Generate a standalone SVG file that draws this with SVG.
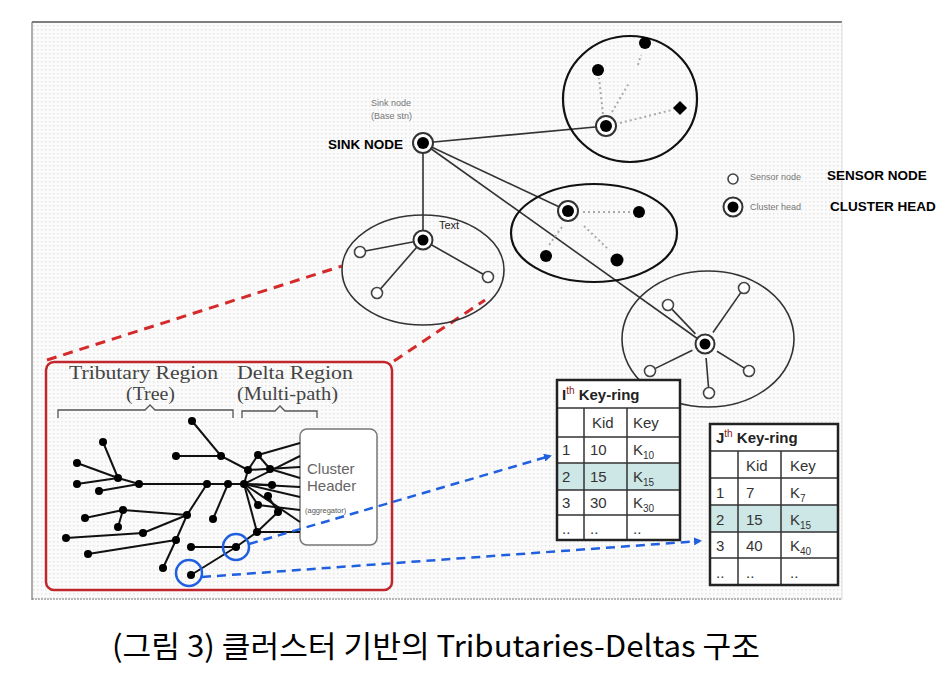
<svg xmlns="http://www.w3.org/2000/svg" width="950" height="694" viewBox="0 0 950 694">
<defs>
<pattern id="dots" width="4" height="4" patternUnits="userSpaceOnUse">
<rect width="4" height="4" fill="#fbfbfb"/>
<rect x="1" y="1" width="1.5" height="1.5" fill="#e6e6e6"/>
</pattern>
<marker id="barrow" markerWidth="8" markerHeight="8" refX="6" refY="4" orient="auto" markerUnits="userSpaceOnUse">
<path d="M0,0 L8,4 L0,8 Z" fill="#1f5fe0"/>
</marker>
</defs>
<style>
.ln{stroke:#333;stroke-width:1.6;fill:none}
.ell{fill:none;stroke:#333;stroke-width:1.6}
.ell2{fill:none;stroke:#111;stroke-width:2.2}
.dot{stroke:#aaa;stroke-width:2;stroke-dasharray:2 3;fill:none}
.chO{fill:#fff;stroke:#333;stroke-width:2}
.chI{fill:#000}
.sn{fill:#fff;stroke:#444;stroke-width:1.6}
.bn{fill:#000}
.small{font-family:"Liberation Sans",Arial,sans-serif;font-size:9px;fill:#777}
.bold{font-family:"Liberation Sans",Arial,sans-serif;font-size:13.5px;font-weight:bold;fill:#000}
.te{stroke:#111;stroke-width:2;fill:none}
.tn{fill:#000}
.serif{font-family:"Liberation Serif","Times New Roman",serif;font-size:18px;fill:#444}
.brace{stroke:#555;stroke-width:1.3;fill:none}
.tb{font-family:"Liberation Sans",Arial,sans-serif;font-size:15px;fill:#333}
.tbt{font-family:"Liberation Sans",Arial,sans-serif;font-size:15px;font-weight:bold;fill:#222}
.tgrid{stroke:#333;stroke-width:1.5;fill:none}
.tout{stroke:#222;stroke-width:2.5;fill:none}
.hl{fill:#cde7e6}
.bd{stroke:#1f5fe0;stroke-width:2.5;stroke-dasharray:9 6;fill:none}
.bc{stroke:#1f5fe0;stroke-width:2.5;fill:none}
.rd{stroke:#d42a2a;stroke-width:3;stroke-dasharray:10 7;fill:none}
</style>
<rect width="950" height="694" fill="#fff"/>
<!-- frame -->
<g id="frame">
<rect x="32" y="22" width="810" height="578" fill="url(#dots)"/>
<line x1="32" y1="22" x2="842" y2="22" stroke="#555" stroke-width="1.5"/>
<line x1="32" y1="22" x2="32" y2="600" stroke="#777" stroke-width="1.2"/>
<line x1="842" y1="22" x2="842" y2="600" stroke="#ddd" stroke-width="1"/>
<line x1="32" y1="599" x2="842" y2="599" stroke="#777" stroke-width="1.2" stroke-dasharray="2 1"/>
</g>
<!-- connectors -->
<g id="connectors">
<line class="ln" x1="423" y1="143" x2="423" y2="240"/>
<line class="ln" x1="423" y1="143" x2="606" y2="126"/>
<line class="ln" x1="423" y1="143" x2="568" y2="211"/>
<line class="ln" x1="423" y1="143" x2="705" y2="344"/>
<line class="rd" x1="47" y1="360" x2="342" y2="266"/>
<line class="rd" x1="394" y1="361" x2="485" y2="300"/>
</g>
<!-- left cluster -->
<g id="cluster-left">
<ellipse class="ell" cx="423" cy="270" rx="81" ry="55"/>
<line class="ln" x1="423" y1="240" x2="360" y2="252"/>
<line class="ln" x1="423" y1="240" x2="488" y2="277"/>
<line class="ln" x1="423" y1="240" x2="377" y2="293"/>
<circle class="sn" cx="360" cy="252" r="5.5"/>
<circle class="sn" cx="488" cy="277" r="5.5"/>
<circle class="sn" cx="377" cy="293" r="5.5"/>
<circle class="chO" cx="423" cy="240" r="9.5"/>
<circle class="chI" cx="423" cy="240" r="5.5"/>
<text x="439" y="229" font-family="Liberation Sans, Arial, sans-serif" font-size="11" fill="#222">Text</text>
</g>
<!-- top-right cluster -->
<g id="cluster-top">
<ellipse class="ell2" cx="630" cy="99" rx="67" ry="63"/>
<line class="dot" x1="603" y1="114" x2="599" y2="78"/>
<line class="dot" x1="612" y1="112" x2="629" y2="83"/>
<line class="dot" x1="638" y1="65" x2="641" y2="55"/>
<line class="dot" x1="620" y1="123" x2="672" y2="110"/>
<circle class="bn" cx="645" cy="43" r="6"/>
<circle class="bn" cx="598" cy="70" r="6"/>
<rect class="bn" x="675" y="103" width="10" height="10" transform="rotate(45 680 108)"/>
<circle class="chO" cx="606" cy="126" r="10"/>
<circle class="chI" cx="606" cy="126" r="6"/>
</g>
<!-- middle cluster -->
<g id="cluster-mid">
<ellipse class="ell2" cx="594" cy="233" rx="83" ry="49"/>
<line class="dot" x1="583" y1="212" x2="633" y2="212"/>
<line class="dot" x1="562" y1="227" x2="549" y2="245"/>
<line class="dot" x1="584" y1="226" x2="608" y2="249"/>
<circle class="bn" cx="639" cy="212" r="6"/>
<circle class="bn" cx="546" cy="256" r="6"/>
<circle class="bn" cx="617" cy="260" r="6.5"/>
<circle class="chO" cx="568" cy="211" r="10"/>
<circle class="chI" cx="568" cy="211" r="6"/>
</g>
<!-- bottom-right cluster -->
<g id="cluster-br">
<ellipse class="ell" cx="708" cy="339" rx="86" ry="68"/>
<line class="ln" x1="695.4" y1="333.9" x2="672.1" y2="309.4"/>
<line class="ln" x1="713" y1="332.5" x2="740.6" y2="292.9"/>
<line class="ln" x1="692.4" y1="350.2" x2="655.4" y2="368.4"/>
<line class="ln" x1="717" y1="351.3" x2="743.9" y2="367.9"/>
<line class="ln" x1="706.1" y1="358" x2="708.5" y2="387"/>
<circle class="sn" cx="668" cy="305" r="5.5"/>
<circle class="sn" cx="744" cy="288" r="5.5"/>
<circle class="sn" cx="650" cy="371" r="5.5"/>
<circle class="sn" cx="749" cy="371" r="5.5"/>
<circle class="sn" cx="709" cy="393" r="5.5"/>
<circle class="chO" cx="705" cy="344" r="9.5"/>
<circle class="chI" cx="705" cy="344" r="5.5"/>
</g>
<!-- sink node -->
<g id="sink">
<circle class="chO" cx="423" cy="143" r="10"/>
<circle class="chI" cx="423" cy="143" r="6"/>
<text class="small" x="371" y="106">Sink node</text>
<text class="small" x="371" y="119">(Base stn)</text>
<text class="bold" x="328" y="149" font-size="13">SINK NODE</text>
</g>
<!-- legend -->
<g id="legend">
<circle class="sn" cx="733" cy="179" r="5"/>
<text class="small" x="750" y="180">Sensor node</text>
<text class="bold" x="827" y="180">SENSOR NODE</text>
<circle class="chO" cx="733" cy="207" r="9.5"/>
<circle class="chI" cx="733" cy="207" r="5.5"/>
<text class="small" x="750" y="210">Cluster head</text>
<text class="bold" x="830" y="211">CLUSTER HEAD</text>
</g>
<!-- zoom box with tributary/delta tree -->
<g id="tree-box">
<rect x="46" y="362" width="346" height="228" rx="8" fill="none" stroke="#c0262b" stroke-width="2.5"/>
<text class="serif" x="69" y="379" textLength="149" lengthAdjust="spacingAndGlyphs">Tributary Region</text>
<text class="serif" x="126" y="400" textLength="49" lengthAdjust="spacingAndGlyphs">(Tree)</text>
<text class="serif" x="237" y="379" textLength="116" lengthAdjust="spacingAndGlyphs">Delta Region</text>
<text class="serif" x="237" y="400" textLength="101" lengthAdjust="spacingAndGlyphs">(Multi-path)</text>
<path class="brace" d="M58,418 L58,410 L145,410 L150,405 L155,410 L233,410 L233,418"/>
<path class="brace" d="M242,418 L242,411 L275,411 L280,406 L285,411 L317,411 L317,418"/>
<rect x="300" y="429" width="77" height="116" rx="7" fill="#fff" stroke="#777" stroke-width="1.5"/>
<text x="307" y="474" font-family="Liberation Sans, Arial, sans-serif" font-size="15" fill="#666">Cluster</text>
<text x="307" y="491" font-family="Liberation Sans, Arial, sans-serif" font-size="15" fill="#666">Header</text>
<text x="305" y="513" font-family="Liberation Sans, Arial, sans-serif" font-size="7.5" fill="#555">(aggregator)</text>
<g id="tree-edges">
<polyline class="te" points="192,421 221,456 248,470"/>
<line class="te" x1="176" y1="456" x2="221" y2="456"/>
<line class="te" x1="139" y1="484" x2="244" y2="484"/>
<line class="te" x1="103" y1="442" x2="118" y2="478"/>
<line class="te" x1="77" y1="463" x2="118" y2="478"/>
<line class="te" x1="77" y1="484" x2="118" y2="478"/>
<line class="te" x1="118" y1="478" x2="139" y2="484"/>
<line class="te" x1="99" y1="491" x2="139" y2="484"/>
<line class="te" x1="85" y1="518" x2="123" y2="510"/>
<line class="te" x1="118" y1="527" x2="123" y2="510"/>
<line class="te" x1="123" y1="510" x2="187" y2="515"/>
<polyline class="te" points="207,484 187,515 176,540 163,568"/>
<line class="te" x1="66" y1="538" x2="143" y2="533"/>
<line class="te" x1="143" y1="533" x2="187" y2="515"/>
<line class="te" x1="88" y1="554" x2="176" y2="540"/>
<line class="te" x1="213" y1="519" x2="228" y2="484"/>
<line class="te" x1="191" y1="547" x2="236" y2="547"/>
<polyline class="te" points="191,575 236,547 257,532 278,512"/>
<line class="te" x1="257" y1="532" x2="300" y2="532"/>
<line class="te" x1="244" y1="484" x2="257" y2="532"/>
<line class="te" x1="248" y1="470" x2="258" y2="455"/>
<line class="te" x1="258" y1="455" x2="300" y2="443"/>
<line class="te" x1="258" y1="455" x2="270" y2="469"/>
<line class="te" x1="248" y1="470" x2="300" y2="467"/>
<line class="te" x1="248" y1="470" x2="244" y2="484"/>
<line class="te" x1="270" y1="469" x2="300" y2="478"/>
<line class="te" x1="244" y1="484" x2="300" y2="456"/>
<line class="te" x1="244" y1="484" x2="300" y2="487"/>
<line class="te" x1="244" y1="484" x2="300" y2="497"/>
<line class="te" x1="244" y1="484" x2="300" y2="522"/>
<line class="te" x1="244" y1="484" x2="258" y2="505"/>
<line class="te" x1="268" y1="496" x2="278" y2="512"/>
<line class="te" x1="258" y1="505" x2="300" y2="510"/>
<line class="te" x1="244" y1="484" x2="272" y2="485"/>
</g>
<g id="tree-nodes">
<circle class="tn" cx="192" cy="421" r="4"/>
<circle class="tn" cx="221" cy="456" r="4"/>
<circle class="tn" cx="176" cy="456" r="4"/>
<circle class="tn" cx="248" cy="470" r="4"/>
<circle class="tn" cx="258" cy="455" r="4"/>
<circle class="tn" cx="270" cy="469" r="4"/>
<circle class="tn" cx="244" cy="484" r="4"/>
<circle class="tn" cx="228" cy="484" r="4"/>
<circle class="tn" cx="207" cy="484" r="4"/>
<circle class="tn" cx="139" cy="484" r="4"/>
<circle class="tn" cx="118" cy="478" r="4"/>
<circle class="tn" cx="103" cy="442" r="4"/>
<circle class="tn" cx="77" cy="463" r="4"/>
<circle class="tn" cx="77" cy="484" r="4"/>
<circle class="tn" cx="99" cy="491" r="4"/>
<circle class="tn" cx="272" cy="485" r="4"/>
<circle class="tn" cx="268" cy="496" r="4"/>
<circle class="tn" cx="258" cy="505" r="4"/>
<circle class="tn" cx="278" cy="512" r="4"/>
<circle class="tn" cx="257" cy="532" r="4"/>
<circle class="tn" cx="236" cy="547" r="4"/>
<circle class="tn" cx="191" cy="547" r="4"/>
<circle class="tn" cx="191" cy="575" r="4"/>
<circle class="tn" cx="213" cy="519" r="4"/>
<circle class="tn" cx="187" cy="515" r="4"/>
<circle class="tn" cx="176" cy="540" r="4"/>
<circle class="tn" cx="163" cy="568" r="4"/>
<circle class="tn" cx="143" cy="533" r="4"/>
<circle class="tn" cx="88" cy="554" r="4"/>
<circle class="tn" cx="66" cy="538" r="4"/>
<circle class="tn" cx="123" cy="510" r="4"/>
<circle class="tn" cx="118" cy="527" r="4"/>
<circle class="tn" cx="85" cy="518" r="4"/>
</g>
<circle class="bc" cx="236" cy="547" r="13"/>
<circle class="bc" cx="189" cy="573" r="13"/>
</g>
<!-- blue arrows -->
<g id="key-links">
<line class="bd" x1="249" y1="544" x2="550" y2="456" marker-end="url(#barrow)"/>
<line class="bd" x1="202" y1="577" x2="700" y2="541" marker-end="url(#barrow)"/>
</g>
<!-- I-th key ring -->
<g id="keyring-i">
<rect x="557" y="380" width="123" height="160" fill="#fff"/>
<rect class="hl" x="557" y="463" width="123" height="27"/>
<path class="tgrid" d="M557,408 H680 M557,437 H680 M557,463 H680 M557,490 H680 M557,515 H680 M584,408 V540 M627,408 V540"/>
<rect class="tout" x="557" y="380" width="123" height="160"/>
<text class="tbt" x="562" y="400">I<tspan font-size="10" dy="-6" fill="#8a2020" font-weight="normal">th</tspan><tspan dy="6"> Key-ring</tspan></text>
<text class="tb" x="592" y="428">Kid</text>
<text class="tb" x="633" y="428">Key</text>
<text class="tb" x="562" y="455">1</text>
<text class="tb" x="590" y="455">10</text>
<text class="tb" x="633" y="455">K<tspan font-size="10" dy="4">10</tspan></text>
<text class="tb" x="562" y="482">2</text>
<text class="tb" x="590" y="482">15</text>
<text class="tb" x="633" y="482">K<tspan font-size="10" dy="4">15</tspan></text>
<text class="tb" x="562" y="508">3</text>
<text class="tb" x="590" y="508">30</text>
<text class="tb" x="633" y="508">K<tspan font-size="10" dy="4">30</tspan></text>
<text class="tb" x="562" y="534" font-size="10" fill="#777">..</text>
<text class="tb" x="590" y="534" font-size="10" fill="#777">..</text>
<text class="tb" x="633" y="534" font-size="10" fill="#777">..</text>
</g>
<!-- J-th key ring -->
<g id="keyring-j">
<rect x="710" y="424" width="128" height="161" fill="#fff"/>
<rect class="hl" x="710" y="505" width="128" height="27"/>
<path class="tgrid" d="M710,451 H838 M710,478 H838 M710,505 H838 M710,532 H838 M710,558 H838 M738,451 V585 M781,451 V585"/>
<rect class="tout" x="710" y="424" width="128" height="161"/>
<text class="tbt" x="716" y="443">J<tspan font-size="10" dy="-6" fill="#8a2020" font-weight="normal">th</tspan><tspan dy="6"> Key-ring</tspan></text>
<text class="tb" x="746" y="471">Kid</text>
<text class="tb" x="790" y="471">Key</text>
<text class="tb" x="716" y="498">1</text>
<text class="tb" x="746" y="498">7</text>
<text class="tb" x="790" y="498">K<tspan font-size="10" dy="4">7</tspan></text>
<text class="tb" x="716" y="525">2</text>
<text class="tb" x="746" y="525">15</text>
<text class="tb" x="790" y="525">K<tspan font-size="10" dy="4">15</tspan></text>
<text class="tb" x="716" y="551">3</text>
<text class="tb" x="746" y="551">40</text>
<text class="tb" x="790" y="551">K<tspan font-size="10" dy="4">40</tspan></text>
<text class="tb" x="716" y="578" font-size="10" fill="#777">..</text>
<text class="tb" x="746" y="578" font-size="10" fill="#777">..</text>
<text class="tb" x="790" y="578" font-size="10" fill="#777">..</text>
</g>
<!-- caption -->
<text id="caption" x="112" y="657" font-family="'Noto Sans CJK KR', sans-serif" font-size="30" fill="#000" textLength="648" lengthAdjust="spacingAndGlyphs">(그림 3) 클러스터 기반의 Tributaries-Deltas 구조</text>
</svg>
